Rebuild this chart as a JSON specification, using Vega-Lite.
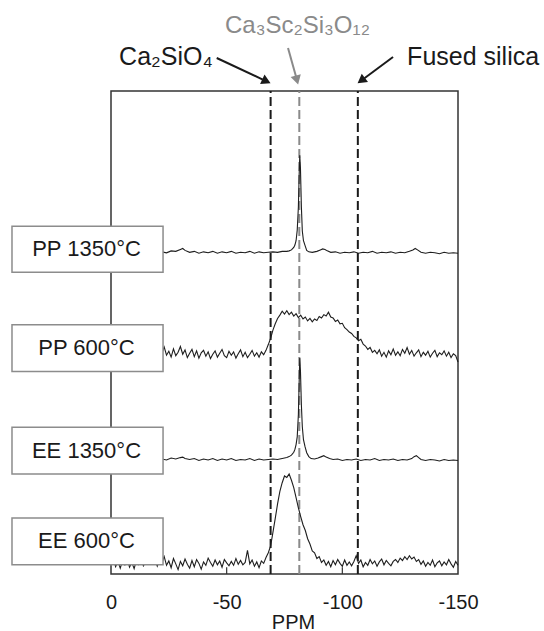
{
"$schema": "https://vega.github.io/schema/vega-lite/v6.json",
"width": 347, "height": 483,
"autosize": "none",
"padding": {"left": 111, "top": 91, "right": 86, "bottom": 57},
"background": "white",
"config": {"view": {"stroke": "#333333", "strokeWidth": 1.5}, "font": "Liberation Sans"},
"datasets": {
"refs": [{"x": -69, "y": 0, "y2": 100, "c": "#1a1a1a"}, {"x": -81.4, "y": 0, "y2": 100, "c": "#8a8a8a"}, {"x": -106.7, "y": 0, "y2": 100, "c": "#1a1a1a"}],
"ticks": [{"x": -50, "y": 0, "y2": 1.4}, {"x": -100, "y": 0, "y2": 1.4}],
"spectra": [
{"s":"PP1350","x":0,"y":66.6},{"s":"PP1350","x":-2,"y":66.9},{"s":"PP1350","x":-4,"y":66.5},{"s":"PP1350","x":-6,"y":66.8},{"s":"PP1350","x":-8,"y":66.6},{"s":"PP1350","x":-10,"y":66.9},{"s":"PP1350","x":-12,"y":66.5},{"s":"PP1350","x":-14,"y":66.7},{"s":"PP1350","x":-16,"y":66.4},{"s":"PP1350","x":-18,"y":66.8},{"s":"PP1350","x":-20,"y":66.6},{"s":"PP1350","x":-22,"y":66.7},{"s":"PP1350","x":-24,"y":66.5},{"s":"PP1350","x":-26,"y":66.9},{"s":"PP1350","x":-28,"y":66.8},{"s":"PP1350","x":-30,"y":67.2},{"s":"PP1350","x":-31,"y":67.4},{"s":"PP1350","x":-32,"y":67.0},{"s":"PP1350","x":-34,"y":66.6},{"s":"PP1350","x":-36,"y":66.8},{"s":"PP1350","x":-38,"y":66.4},{"s":"PP1350","x":-40,"y":66.7},{"s":"PP1350","x":-42,"y":66.5},{"s":"PP1350","x":-44,"y":66.8},{"s":"PP1350","x":-46,"y":66.4},{"s":"PP1350","x":-48,"y":66.7},{"s":"PP1350","x":-50,"y":66.5},{"s":"PP1350","x":-52,"y":66.8},{"s":"PP1350","x":-54,"y":66.4},{"s":"PP1350","x":-56,"y":66.6},{"s":"PP1350","x":-58,"y":66.5},{"s":"PP1350","x":-60,"y":66.8},{"s":"PP1350","x":-62,"y":66.4},{"s":"PP1350","x":-64,"y":66.7},{"s":"PP1350","x":-66,"y":66.5},{"s":"PP1350","x":-68,"y":66.6},{"s":"PP1350","x":-70,"y":66.7},{"s":"PP1350","x":-72,"y":66.6},{"s":"PP1350","x":-74,"y":66.8},{"s":"PP1350","x":-76,"y":66.8},{"s":"PP1350","x":-77,"y":66.9},{"s":"PP1350","x":-78,"y":67.1},{"s":"PP1350","x":-79,"y":67.6},{"s":"PP1350","x":-79.5,"y":68.1},{"s":"PP1350","x":-80,"y":69.0},{"s":"PP1350","x":-80.5,"y":71.2},{"s":"PP1350","x":-81,"y":76},{"s":"PP1350","x":-81.3,"y":82},{"s":"PP1350","x":-81.6,"y":86.7},{"s":"PP1350","x":-81.9,"y":84},{"s":"PP1350","x":-82.3,"y":76},{"s":"PP1350","x":-82.7,"y":71},{"s":"PP1350","x":-83.2,"y":69},{"s":"PP1350","x":-83.9,"y":68.0},{"s":"PP1350","x":-84.6,"y":67.0},{"s":"PP1350","x":-85.5,"y":66.7},{"s":"PP1350","x":-87,"y":66.6},{"s":"PP1350","x":-89,"y":66.8},{"s":"PP1350","x":-90.5,"y":67.1},{"s":"PP1350","x":-91.5,"y":67.3},{"s":"PP1350","x":-92.5,"y":67.2},{"s":"PP1350","x":-93.5,"y":66.9},{"s":"PP1350","x":-95,"y":66.6},{"s":"PP1350","x":-97,"y":66.7},{"s":"PP1350","x":-99,"y":66.4},{"s":"PP1350","x":-101,"y":66.6},{"s":"PP1350","x":-103,"y":66.5},{"s":"PP1350","x":-105,"y":66.7},{"s":"PP1350","x":-107,"y":66.4},{"s":"PP1350","x":-109,"y":66.6},{"s":"PP1350","x":-111,"y":66.5},{"s":"PP1350","x":-113,"y":66.8},{"s":"PP1350","x":-115,"y":66.4},{"s":"PP1350","x":-117,"y":66.6},{"s":"PP1350","x":-119,"y":66.5},{"s":"PP1350","x":-121,"y":66.7},{"s":"PP1350","x":-123,"y":66.4},{"s":"PP1350","x":-125,"y":66.6},{"s":"PP1350","x":-127,"y":66.5},{"s":"PP1350","x":-129,"y":66.8},{"s":"PP1350","x":-130.5,"y":67.1},{"s":"PP1350","x":-131.5,"y":67.4},{"s":"PP1350","x":-132.5,"y":67.1},{"s":"PP1350","x":-134,"y":66.6},{"s":"PP1350","x":-136,"y":66.4},{"s":"PP1350","x":-138,"y":66.6},{"s":"PP1350","x":-140,"y":66.5},{"s":"PP1350","x":-142,"y":66.3},{"s":"PP1350","x":-144,"y":66.6},{"s":"PP1350","x":-146,"y":66.4},{"s":"PP1350","x":-148,"y":66.5},{"s":"PP1350","x":-150,"y":66.4},
{"s":"PP600","x":0,"y":45.2},{"s":"PP600","x":-1,"y":46.4},{"s":"PP600","x":-2,"y":45.0},{"s":"PP600","x":-3,"y":46.8},{"s":"PP600","x":-4,"y":45.5},{"s":"PP600","x":-5,"y":44.7},{"s":"PP600","x":-6,"y":46.0},{"s":"PP600","x":-7,"y":45.3},{"s":"PP600","x":-8,"y":46.6},{"s":"PP600","x":-9,"y":44.9},{"s":"PP600","x":-10,"y":45.8},{"s":"PP600","x":-11,"y":46.9},{"s":"PP600","x":-12,"y":45.1},{"s":"PP600","x":-13,"y":45.9},{"s":"PP600","x":-14,"y":44.6},{"s":"PP600","x":-15,"y":46.2},{"s":"PP600","x":-16,"y":45.4},{"s":"PP600","x":-17,"y":46.7},{"s":"PP600","x":-18,"y":45.0},{"s":"PP600","x":-19,"y":45.6},{"s":"PP600","x":-20,"y":44.8},{"s":"PP600","x":-21,"y":46.3},{"s":"PP600","x":-22,"y":45.7},{"s":"PP600","x":-23,"y":47.0},{"s":"PP600","x":-24,"y":45.3},{"s":"PP600","x":-25,"y":46.1},{"s":"PP600","x":-26,"y":44.9},{"s":"PP600","x":-27,"y":46.6},{"s":"PP600","x":-28,"y":45.2},{"s":"PP600","x":-29,"y":45.9},{"s":"PP600","x":-30,"y":47.1},{"s":"PP600","x":-31,"y":45.5},{"s":"PP600","x":-32,"y":46.4},{"s":"PP600","x":-33,"y":44.8},{"s":"PP600","x":-34,"y":45.7},{"s":"PP600","x":-35,"y":46.5},{"s":"PP600","x":-36,"y":45.0},{"s":"PP600","x":-37,"y":46.2},{"s":"PP600","x":-38,"y":44.7},{"s":"PP600","x":-39,"y":45.8},{"s":"PP600","x":-40,"y":46.3},{"s":"PP600","x":-41,"y":45.1},{"s":"PP600","x":-42,"y":46.0},{"s":"PP600","x":-43,"y":44.6},{"s":"PP600","x":-44,"y":45.5},{"s":"PP600","x":-45,"y":46.2},{"s":"PP600","x":-46,"y":44.9},{"s":"PP600","x":-47,"y":45.7},{"s":"PP600","x":-48,"y":46.5},{"s":"PP600","x":-49,"y":45.2},{"s":"PP600","x":-50,"y":44.8},{"s":"PP600","x":-51,"y":46.1},{"s":"PP600","x":-52,"y":45.3},{"s":"PP600","x":-53,"y":46.0},{"s":"PP600","x":-54,"y":44.7},{"s":"PP600","x":-55,"y":45.6},{"s":"PP600","x":-56,"y":46.4},{"s":"PP600","x":-57,"y":45.0},{"s":"PP600","x":-58,"y":45.9},{"s":"PP600","x":-59,"y":44.8},{"s":"PP600","x":-60,"y":45.5},{"s":"PP600","x":-61,"y":46.3},{"s":"PP600","x":-62,"y":45.1},{"s":"PP600","x":-63,"y":45.8},{"s":"PP600","x":-64,"y":44.9},{"s":"PP600","x":-65,"y":46.0},{"s":"PP600","x":-66,"y":45.4},{"s":"PP600","x":-67,"y":46.3},{"s":"PP600","x":-68,"y":47.5},{"s":"PP600","x":-69,"y":48.8},{"s":"PP600","x":-70,"y":50.5},{"s":"PP600","x":-71,"y":51.8},{"s":"PP600","x":-72,"y":52.9},{"s":"PP600","x":-73,"y":53.6},{"s":"PP600","x":-74,"y":54.4},{"s":"PP600","x":-75,"y":53.8},{"s":"PP600","x":-76,"y":54.5},{"s":"PP600","x":-77,"y":53.7},{"s":"PP600","x":-78,"y":54.2},{"s":"PP600","x":-79,"y":53.4},{"s":"PP600","x":-80,"y":53.9},{"s":"PP600","x":-81,"y":53.1},{"s":"PP600","x":-82,"y":53.6},{"s":"PP600","x":-83,"y":52.8},{"s":"PP600","x":-84,"y":53.2},{"s":"PP600","x":-85,"y":52.4},{"s":"PP600","x":-86,"y":52.9},{"s":"PP600","x":-87,"y":52.2},{"s":"PP600","x":-88,"y":52.8},{"s":"PP600","x":-89,"y":52.5},{"s":"PP600","x":-90,"y":53.3},{"s":"PP600","x":-91,"y":53.0},{"s":"PP600","x":-92,"y":53.7},{"s":"PP600","x":-93,"y":53.4},{"s":"PP600","x":-94,"y":54.2},{"s":"PP600","x":-95,"y":53.2},{"s":"PP600","x":-96,"y":53.0},{"s":"PP600","x":-97,"y":52.3},{"s":"PP600","x":-98,"y":52.6},{"s":"PP600","x":-99,"y":51.8},{"s":"PP600","x":-100,"y":51.9},{"s":"PP600","x":-101,"y":51.0},{"s":"PP600","x":-102,"y":50.6},{"s":"PP600","x":-103,"y":50.1},{"s":"PP600","x":-104,"y":49.8},{"s":"PP600","x":-105,"y":49.2},{"s":"PP600","x":-106,"y":48.9},{"s":"PP600","x":-107,"y":48.3},{"s":"PP600","x":-108,"y":48.6},{"s":"PP600","x":-109,"y":47.6},{"s":"PP600","x":-110,"y":47.2},{"s":"PP600","x":-111,"y":46.5},{"s":"PP600","x":-112,"y":46.9},{"s":"PP600","x":-113,"y":45.9},{"s":"PP600","x":-114,"y":46.3},{"s":"PP600","x":-115,"y":45.6},{"s":"PP600","x":-116,"y":46.4},{"s":"PP600","x":-117,"y":45.1},{"s":"PP600","x":-118,"y":45.9},{"s":"PP600","x":-119,"y":44.9},{"s":"PP600","x":-120,"y":46.2},{"s":"PP600","x":-121,"y":45.4},{"s":"PP600","x":-122,"y":46.6},{"s":"PP600","x":-123,"y":45.3},{"s":"PP600","x":-124,"y":46.0},{"s":"PP600","x":-125,"y":45.2},{"s":"PP600","x":-126,"y":46.5},{"s":"PP600","x":-127,"y":45.7},{"s":"PP600","x":-128,"y":46.9},{"s":"PP600","x":-129,"y":45.5},{"s":"PP600","x":-130,"y":46.3},{"s":"PP600","x":-131,"y":45.1},{"s":"PP600","x":-132,"y":45.8},{"s":"PP600","x":-133,"y":46.4},{"s":"PP600","x":-134,"y":45.0},{"s":"PP600","x":-135,"y":45.9},{"s":"PP600","x":-136,"y":45.3},{"s":"PP600","x":-137,"y":46.1},{"s":"PP600","x":-138,"y":44.9},{"s":"PP600","x":-139,"y":45.7},{"s":"PP600","x":-140,"y":46.3},{"s":"PP600","x":-141,"y":45.0},{"s":"PP600","x":-142,"y":45.8},{"s":"PP600","x":-143,"y":45.4},{"s":"PP600","x":-144,"y":46.2},{"s":"PP600","x":-145,"y":45.1},{"s":"PP600","x":-146,"y":45.9},{"s":"PP600","x":-147,"y":44.8},{"s":"PP600","x":-148,"y":45.6},{"s":"PP600","x":-149,"y":45.2},{"s":"PP600","x":-150,"y":43.9},
{"s":"EE1350","x":0,"y":23.7},{"s":"EE1350","x":-2,"y":24.0},{"s":"EE1350","x":-4,"y":23.6},{"s":"EE1350","x":-6,"y":23.9},{"s":"EE1350","x":-8,"y":23.7},{"s":"EE1350","x":-10,"y":24.0},{"s":"EE1350","x":-12,"y":23.6},{"s":"EE1350","x":-14,"y":23.8},{"s":"EE1350","x":-16,"y":23.5},{"s":"EE1350","x":-18,"y":23.9},{"s":"EE1350","x":-20,"y":23.7},{"s":"EE1350","x":-22,"y":23.8},{"s":"EE1350","x":-24,"y":23.6},{"s":"EE1350","x":-26,"y":24.0},{"s":"EE1350","x":-28,"y":23.8},{"s":"EE1350","x":-30,"y":24.1},{"s":"EE1350","x":-31,"y":24.2},{"s":"EE1350","x":-32,"y":23.9},{"s":"EE1350","x":-34,"y":23.7},{"s":"EE1350","x":-36,"y":23.9},{"s":"EE1350","x":-38,"y":23.5},{"s":"EE1350","x":-40,"y":23.8},{"s":"EE1350","x":-42,"y":23.6},{"s":"EE1350","x":-44,"y":23.9},{"s":"EE1350","x":-46,"y":23.5},{"s":"EE1350","x":-48,"y":23.8},{"s":"EE1350","x":-50,"y":23.6},{"s":"EE1350","x":-52,"y":23.9},{"s":"EE1350","x":-54,"y":23.5},{"s":"EE1350","x":-56,"y":23.7},{"s":"EE1350","x":-58,"y":23.6},{"s":"EE1350","x":-60,"y":23.9},{"s":"EE1350","x":-62,"y":23.5},{"s":"EE1350","x":-64,"y":23.8},{"s":"EE1350","x":-66,"y":23.6},{"s":"EE1350","x":-68,"y":23.7},{"s":"EE1350","x":-70,"y":23.8},{"s":"EE1350","x":-72,"y":23.7},{"s":"EE1350","x":-74,"y":23.9},{"s":"EE1350","x":-75,"y":24.0},{"s":"EE1350","x":-76,"y":24.1},{"s":"EE1350","x":-77,"y":24.3},{"s":"EE1350","x":-78,"y":24.6},{"s":"EE1350","x":-79,"y":25.2},{"s":"EE1350","x":-79.5,"y":25.8},{"s":"EE1350","x":-80,"y":26.8},{"s":"EE1350","x":-80.5,"y":28.4},{"s":"EE1350","x":-81,"y":33},{"s":"EE1350","x":-81.3,"y":39},{"s":"EE1350","x":-81.6,"y":44.7},{"s":"EE1350","x":-81.9,"y":42},{"s":"EE1350","x":-82.3,"y":35},{"s":"EE1350","x":-82.7,"y":30.5},{"s":"EE1350","x":-83.2,"y":27.8},{"s":"EE1350","x":-83.9,"y":26.3},{"s":"EE1350","x":-84.6,"y":25.1},{"s":"EE1350","x":-85.5,"y":24.3},{"s":"EE1350","x":-86.5,"y":23.9},{"s":"EE1350","x":-88,"y":23.8},{"s":"EE1350","x":-89.5,"y":24.0},{"s":"EE1350","x":-91,"y":24.3},{"s":"EE1350","x":-92,"y":24.5},{"s":"EE1350","x":-93,"y":24.2},{"s":"EE1350","x":-94.5,"y":23.9},{"s":"EE1350","x":-96,"y":23.7},{"s":"EE1350","x":-98,"y":23.8},{"s":"EE1350","x":-100,"y":23.5},{"s":"EE1350","x":-102,"y":23.7},{"s":"EE1350","x":-104,"y":23.6},{"s":"EE1350","x":-106,"y":23.8},{"s":"EE1350","x":-108,"y":23.5},{"s":"EE1350","x":-110,"y":23.7},{"s":"EE1350","x":-112,"y":23.6},{"s":"EE1350","x":-114,"y":23.9},{"s":"EE1350","x":-116,"y":23.5},{"s":"EE1350","x":-118,"y":23.7},{"s":"EE1350","x":-120,"y":23.6},{"s":"EE1350","x":-122,"y":23.8},{"s":"EE1350","x":-124,"y":23.5},{"s":"EE1350","x":-126,"y":23.7},{"s":"EE1350","x":-128,"y":23.6},{"s":"EE1350","x":-130,"y":23.9},{"s":"EE1350","x":-131,"y":24.3},{"s":"EE1350","x":-132,"y":24.5},{"s":"EE1350","x":-133,"y":24.1},{"s":"EE1350","x":-134,"y":23.7},{"s":"EE1350","x":-136,"y":23.5},{"s":"EE1350","x":-138,"y":23.7},{"s":"EE1350","x":-140,"y":23.6},{"s":"EE1350","x":-142,"y":23.4},{"s":"EE1350","x":-144,"y":23.7},{"s":"EE1350","x":-146,"y":23.5},{"s":"EE1350","x":-148,"y":23.6},{"s":"EE1350","x":-150,"y":23.5},
{"s":"EE600","x":0,"y":2.0},{"s":"EE600","x":-1,"y":3.1},{"s":"EE600","x":-2,"y":1.5},{"s":"EE600","x":-3,"y":2.6},{"s":"EE600","x":-4,"y":1.2},{"s":"EE600","x":-5,"y":2.8},{"s":"EE600","x":-6,"y":1.9},{"s":"EE600","x":-7,"y":3.3},{"s":"EE600","x":-8,"y":1.4},{"s":"EE600","x":-9,"y":2.4},{"s":"EE600","x":-10,"y":1.1},{"s":"EE600","x":-11,"y":2.9},{"s":"EE600","x":-12,"y":2.0},{"s":"EE600","x":-13,"y":3.4},{"s":"EE600","x":-14,"y":1.7},{"s":"EE600","x":-15,"y":2.5},{"s":"EE600","x":-16,"y":3.8},{"s":"EE600","x":-17,"y":2.2},{"s":"EE600","x":-18,"y":3.5},{"s":"EE600","x":-19,"y":2.8},{"s":"EE600","x":-20,"y":1.6},{"s":"EE600","x":-21,"y":3.0},{"s":"EE600","x":-22,"y":2.3},{"s":"EE600","x":-23,"y":3.6},{"s":"EE600","x":-24,"y":1.8},{"s":"EE600","x":-25,"y":2.7},{"s":"EE600","x":-26,"y":1.3},{"s":"EE600","x":-27,"y":3.2},{"s":"EE600","x":-28,"y":2.1},{"s":"EE600","x":-29,"y":0.9},{"s":"EE600","x":-30,"y":2.6},{"s":"EE600","x":-31,"y":1.7},{"s":"EE600","x":-32,"y":3.1},{"s":"EE600","x":-33,"y":2.0},{"s":"EE600","x":-34,"y":1.2},{"s":"EE600","x":-35,"y":2.8},{"s":"EE600","x":-36,"y":1.5},{"s":"EE600","x":-37,"y":3.0},{"s":"EE600","x":-38,"y":2.2},{"s":"EE600","x":-39,"y":1.0},{"s":"EE600","x":-40,"y":2.5},{"s":"EE600","x":-41,"y":1.8},{"s":"EE600","x":-42,"y":3.3},{"s":"EE600","x":-43,"y":2.4},{"s":"EE600","x":-44,"y":1.6},{"s":"EE600","x":-45,"y":2.9},{"s":"EE600","x":-46,"y":1.9},{"s":"EE600","x":-47,"y":2.7},{"s":"EE600","x":-48,"y":1.4},{"s":"EE600","x":-49,"y":3.0},{"s":"EE600","x":-50,"y":2.3},{"s":"EE600","x":-51,"y":1.7},{"s":"EE600","x":-52,"y":2.6},{"s":"EE600","x":-53,"y":1.8},{"s":"EE600","x":-54,"y":3.2},{"s":"EE600","x":-55,"y":2.0},{"s":"EE600","x":-56,"y":2.8},{"s":"EE600","x":-57,"y":1.9},{"s":"EE600","x":-58,"y":2.4},{"s":"EE600","x":-59,"y":4.9},{"s":"EE600","x":-60,"y":2.1},{"s":"EE600","x":-61,"y":2.9},{"s":"EE600","x":-62,"y":1.6},{"s":"EE600","x":-63,"y":2.5},{"s":"EE600","x":-64,"y":1.3},{"s":"EE600","x":-65,"y":2.7},{"s":"EE600","x":-66,"y":2.2},{"s":"EE600","x":-67,"y":3.4},{"s":"EE600","x":-68,"y":4.4},{"s":"EE600","x":-69,"y":5.8},{"s":"EE600","x":-70,"y":8.6},{"s":"EE600","x":-71,"y":11.5},{"s":"EE600","x":-72,"y":14.5},{"s":"EE600","x":-73,"y":17.1},{"s":"EE600","x":-74,"y":18.9},{"s":"EE600","x":-75,"y":20.3},{"s":"EE600","x":-76,"y":20.0},{"s":"EE600","x":-77,"y":20.7},{"s":"EE600","x":-78,"y":19.4},{"s":"EE600","x":-79,"y":17.9},{"s":"EE600","x":-80,"y":15.8},{"s":"EE600","x":-81,"y":13.7},{"s":"EE600","x":-82,"y":11.9},{"s":"EE600","x":-83,"y":10.2},{"s":"EE600","x":-84,"y":9.0},{"s":"EE600","x":-85,"y":7.3},{"s":"EE600","x":-86,"y":6.2},{"s":"EE600","x":-87,"y":4.8},{"s":"EE600","x":-88,"y":4.4},{"s":"EE600","x":-89,"y":3.2},{"s":"EE600","x":-90,"y":3.6},{"s":"EE600","x":-91,"y":2.4},{"s":"EE600","x":-92,"y":2.9},{"s":"EE600","x":-93,"y":1.8},{"s":"EE600","x":-94,"y":2.6},{"s":"EE600","x":-95,"y":1.5},{"s":"EE600","x":-96,"y":2.8},{"s":"EE600","x":-97,"y":1.9},{"s":"EE600","x":-98,"y":3.0},{"s":"EE600","x":-99,"y":2.2},{"s":"EE600","x":-100,"y":1.6},{"s":"EE600","x":-101,"y":2.9},{"s":"EE600","x":-102,"y":1.8},{"s":"EE600","x":-103,"y":2.5},{"s":"EE600","x":-104,"y":1.7},{"s":"EE600","x":-105,"y":2.6},{"s":"EE600","x":-106,"y":3.8},{"s":"EE600","x":-107,"y":2.2},{"s":"EE600","x":-108,"y":2.9},{"s":"EE600","x":-109,"y":1.5},{"s":"EE600","x":-110,"y":2.4},{"s":"EE600","x":-111,"y":1.8},{"s":"EE600","x":-112,"y":3.0},{"s":"EE600","x":-113,"y":2.1},{"s":"EE600","x":-114,"y":2.7},{"s":"EE600","x":-115,"y":1.6},{"s":"EE600","x":-116,"y":2.5},{"s":"EE600","x":-117,"y":3.1},{"s":"EE600","x":-118,"y":1.9},{"s":"EE600","x":-119,"y":2.8},{"s":"EE600","x":-120,"y":2.2},{"s":"EE600","x":-121,"y":1.7},{"s":"EE600","x":-122,"y":2.6},{"s":"EE600","x":-123,"y":3.0},{"s":"EE600","x":-124,"y":2.4},{"s":"EE600","x":-125,"y":3.3},{"s":"EE600","x":-126,"y":2.8},{"s":"EE600","x":-127,"y":3.6},{"s":"EE600","x":-128,"y":3.0},{"s":"EE600","x":-129,"y":3.8},{"s":"EE600","x":-130,"y":3.1},{"s":"EE600","x":-131,"y":3.5},{"s":"EE600","x":-132,"y":2.6},{"s":"EE600","x":-133,"y":3.0},{"s":"EE600","x":-134,"y":2.0},{"s":"EE600","x":-135,"y":2.7},{"s":"EE600","x":-136,"y":1.6},{"s":"EE600","x":-137,"y":2.4},{"s":"EE600","x":-138,"y":1.8},{"s":"EE600","x":-139,"y":2.9},{"s":"EE600","x":-140,"y":1.5},{"s":"EE600","x":-141,"y":2.3},{"s":"EE600","x":-142,"y":2.7},{"s":"EE600","x":-143,"y":1.7},{"s":"EE600","x":-144,"y":2.5},{"s":"EE600","x":-145,"y":1.9},{"s":"EE600","x":-146,"y":3.0},{"s":"EE600","x":-147,"y":2.1},{"s":"EE600","x":-148,"y":1.4},{"s":"EE600","x":-149,"y":2.6},{"s":"EE600","x":-150,"y":1.8}
],
"boxes": [
{"x": 42.8, "x2": -22.5, "y": 72.0, "y2": 62.5},
{"x": 42.8, "x2": -22.5, "y": 51.6, "y2": 41.9},
{"x": 42.8, "x2": -22.5, "y": 30.4, "y2": 20.7},
{"x": 42.8, "x2": -22.5, "y": 11.6, "y2": 1.9}
],
"labels": [
{"x": 10.6, "y": 67.25, "t": "PP 1350°C"},
{"x": 10.6, "y": 46.75, "t": "PP 600°C"},
{"x": 10.6, "y": 25.55, "t": "EE 1350°C"},
{"x": 10.6, "y": 6.75, "t": "EE 600°C"}
],
"arrows": [
{"x": -45.7, "y": 106.83, "x2": -65.63, "y2": 102.36, "c": "#1a1a1a"},
{"x": -76.52, "y": 108.9, "x2": -79.94, "y2": 103.04, "c": "#8a8a8a"},
{"x": -121.92, "y": 107.04, "x2": -109.55, "y2": 102.65, "c": "#1a1a1a"}
],
"heads": [
{"x": -67.18, "y": 102.01, "a": 25.1, "c": "#1a1a1a"},
{"x": -80.37, "y": 102.26, "a": 74.5, "c": "#8a8a8a"},
{"x": -108.17, "y": 102.15, "a": 143.4, "c": "#1a1a1a"}
],
"notesL": [
{"x": -3.5, "y": 105.4, "t": "Ca₂SiO₄"},
{"x": -128.0, "y": 105.4, "t": "Fused silica"}
],
"notesC": [
{"x": -80.6, "y": 112.0, "t": "Ca₃Sc₂Si₃O₁₂"}
]
},
"encoding": {
"x": {"field": "x", "type": "quantitative",
 "scale": {"domain": [0, -150], "nice": false, "zero": false},
 "axis": {"values": [0, -50, -100, -150], "labelExpr": "'' + datum.value", "domain": false, "ticks": false, "grid": false,
  "labelFlush": false, "labelOverlap": false, "labelFontSize": 20, "labelColor": "#1a1a1a", "labelFont": "Liberation Sans", "labelPadding": 18,
  "title": "PPM", "titleFont": "Liberation Sans", "titleFontSize": 20, "titleFontWeight": "normal", "titleColor": "#1a1a1a", "titlePadding": 0, "titleX": 182}},
"y": {"field": "y", "type": "quantitative", "scale": {"domain": [0, 100], "nice": false, "zero": false}, "axis": null}
},
"layer": [
{"data": {"name": "refs"}, "mark": {"type": "rule", "strokeDash": [9, 4], "strokeWidth": 2},
 "encoding": {"y2": {"field": "y2"}, "color": {"field": "c", "type": "nominal", "scale": null}}},
{"data": {"name": "ticks"}, "mark": {"type": "rule", "strokeWidth": 1.2, "color": "#333333"},
 "encoding": {"y2": {"field": "y2"}}},
{"data": {"name": "spectra"}, "mark": {"type": "line", "strokeWidth": 1.1, "color": "#1e1e1e"},
 "encoding": {"detail": {"field": "s", "type": "nominal"}}},
{"data": {"name": "boxes"}, "mark": {"type": "rect", "fill": "white", "stroke": "#8c8c8c", "strokeWidth": 1.5},
 "encoding": {"x2": {"field": "x2"}, "y2": {"field": "y2"}}},
{"data": {"name": "labels"}, "mark": {"type": "text", "fontSize": 22, "font": "Liberation Sans", "color": "#1a1a1a", "align": "center", "baseline": "middle"},
 "encoding": {"text": {"field": "t", "type": "nominal"}}},
{"data": {"name": "arrows"}, "mark": {"type": "rule", "strokeWidth": 2},
 "encoding": {"x2": {"field": "x2"}, "y2": {"field": "y2"}, "color": {"field": "c", "type": "nominal", "scale": null}}},
{"data": {"name": "heads"}, "mark": {"type": "point", "shape": "triangle-right", "filled": true, "size": 110, "opacity": 1},
 "encoding": {"angle": {"field": "a", "type": "quantitative", "scale": null}, "color": {"field": "c", "type": "nominal", "scale": null}}},
{"data": {"name": "notesL"}, "mark": {"type": "text", "fontSize": 25, "font": "Liberation Sans", "color": "#1a1a1a", "align": "left", "baseline": "alphabetic"},
 "encoding": {"text": {"field": "t", "type": "nominal"}}},
{"data": {"name": "notesC"}, "mark": {"type": "text", "fontSize": 24, "font": "Liberation Sans", "color": "#8a8a8a", "align": "center", "baseline": "alphabetic"},
 "encoding": {"text": {"field": "t", "type": "nominal"}}}
]
}
